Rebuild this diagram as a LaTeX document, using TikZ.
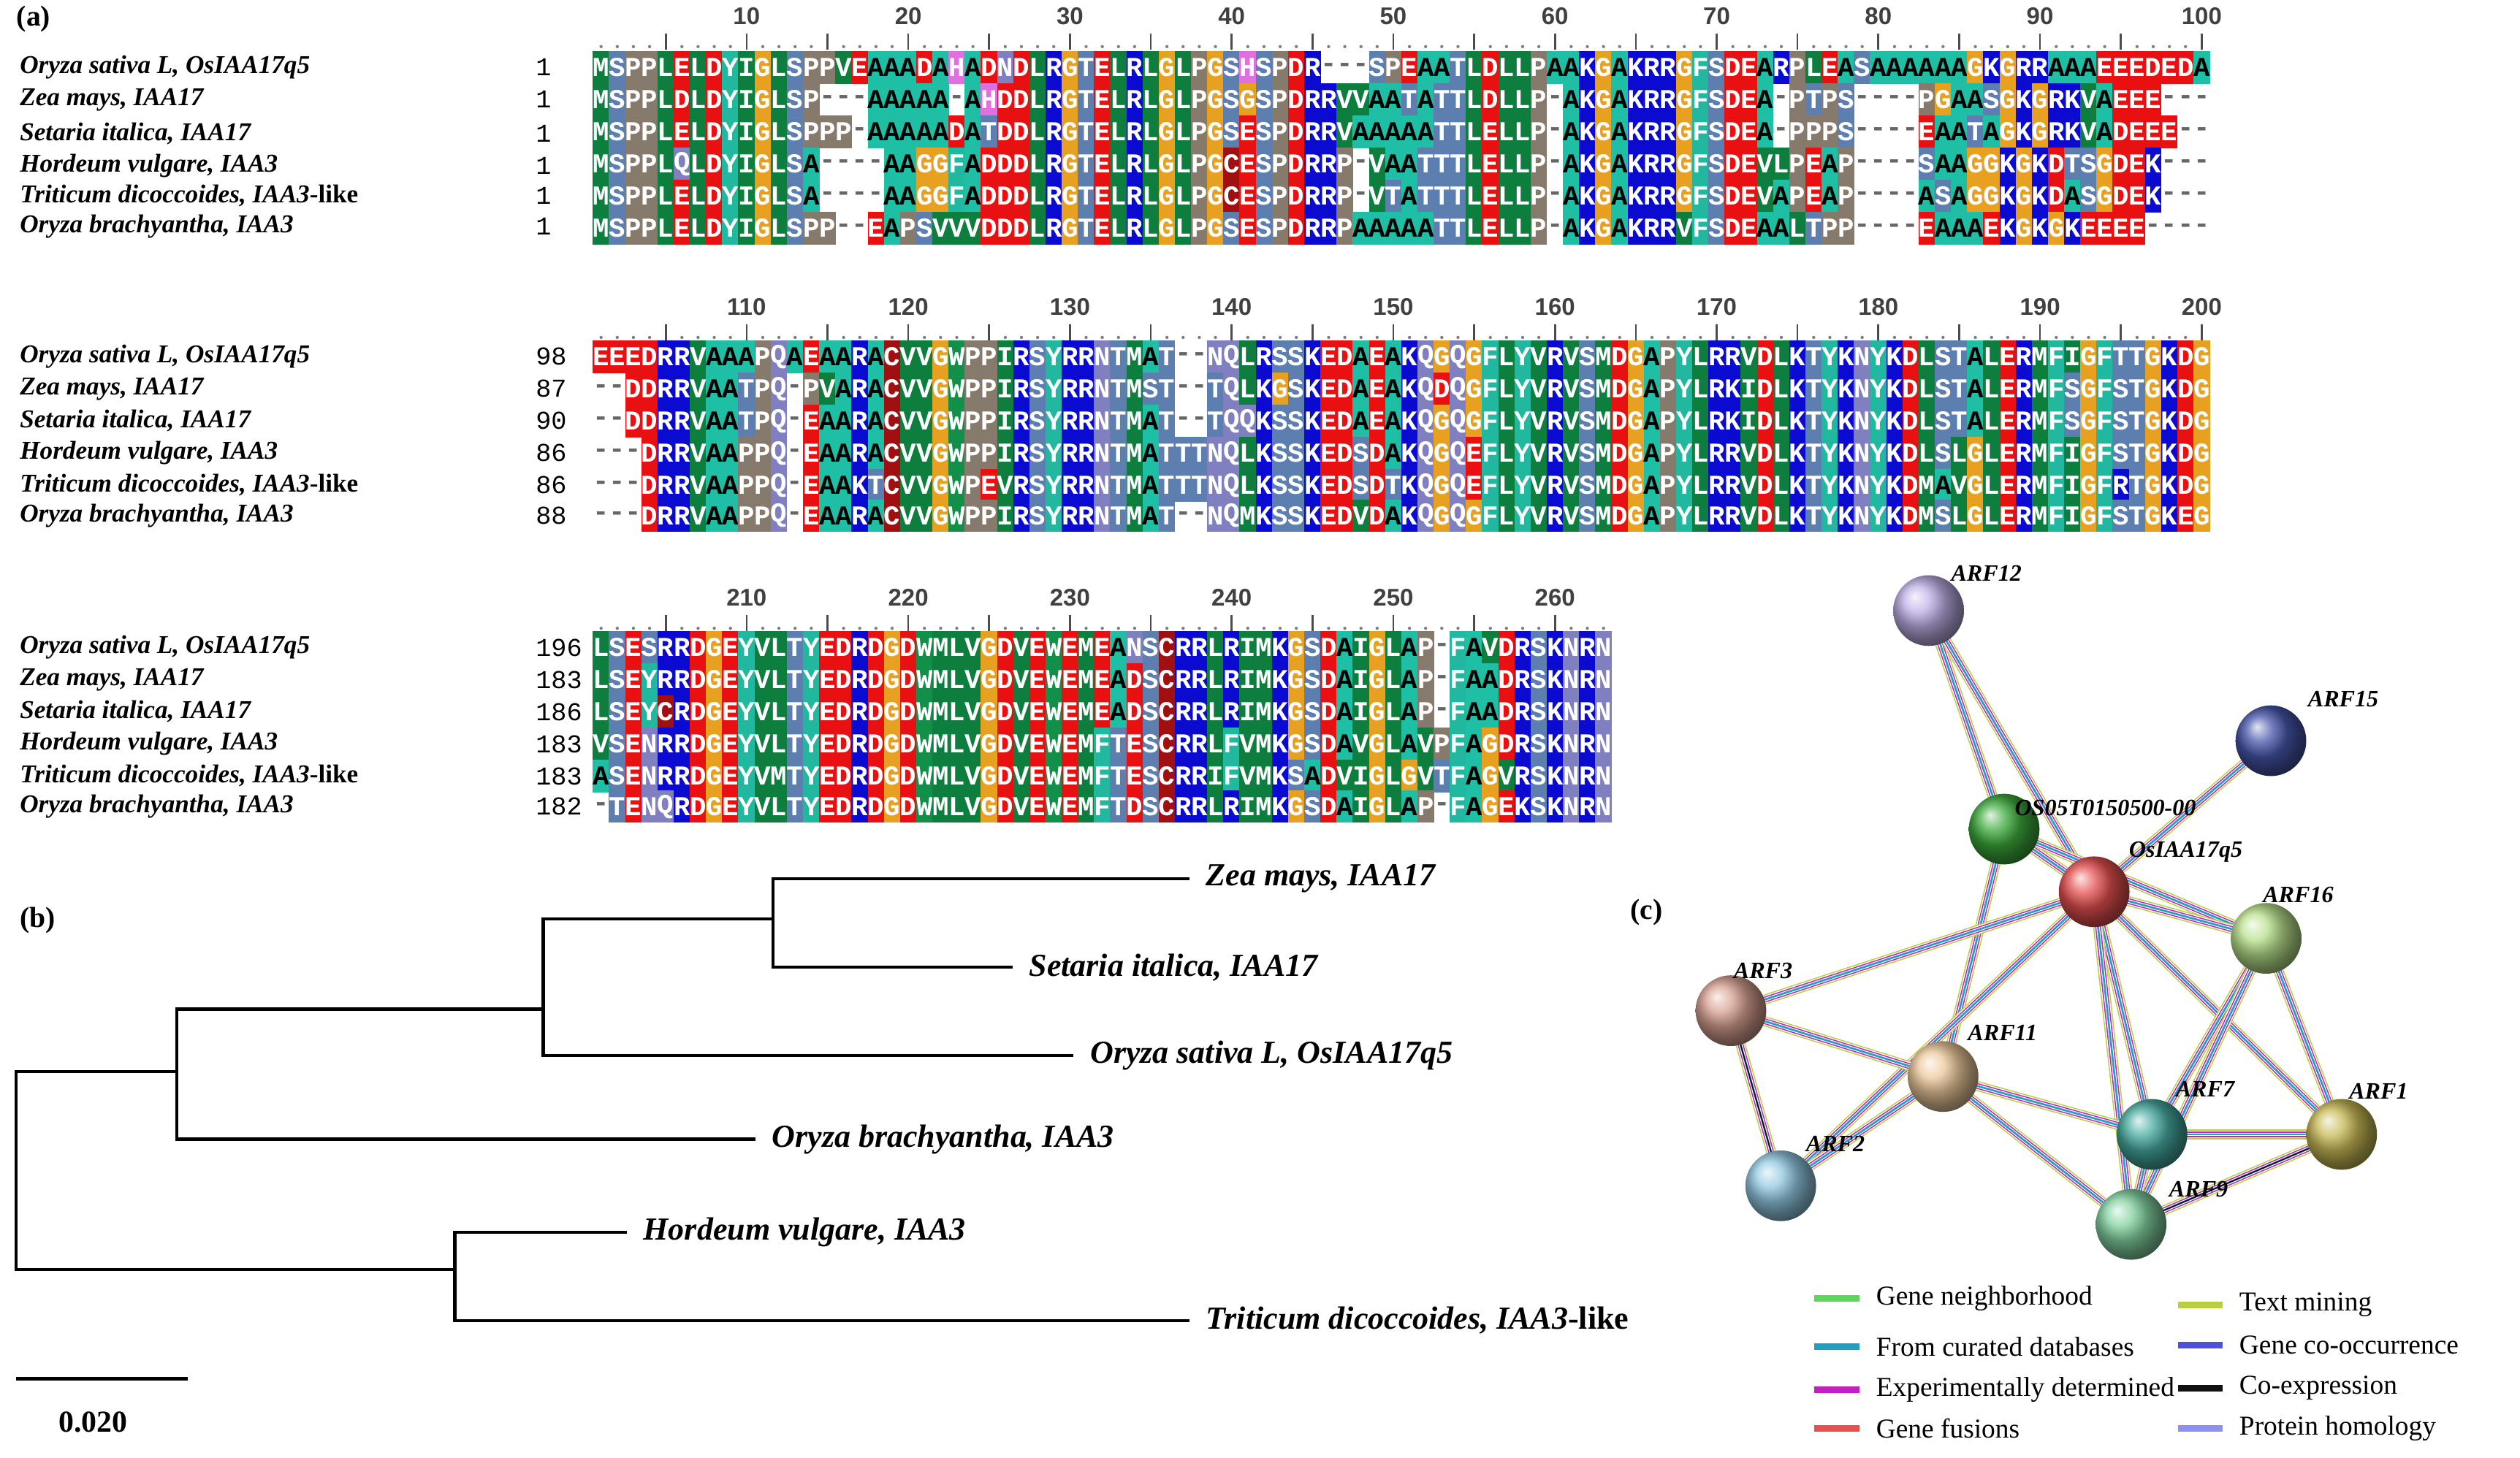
\documentclass[tikz,border=0pt]{standalone}
\usepackage{fontspec}
\setmainfont{Liberation Serif}
\newfontfamily\seqfont{Liberation Mono}
\newfontfamily\rulfont{Liberation Sans}
\usetikzlibrary{positioning}

% residue colours
\definecolor{resA}{HTML}{1FBFA5}\definecolor{resR}{HTML}{0A0AD0}\definecolor{resK}{HTML}{0A0AD0}
\definecolor{resD}{HTML}{E81010}\definecolor{resE}{HTML}{E81010}\definecolor{resG}{HTML}{E8A020}
\definecolor{resP}{HTML}{867A6C}\definecolor{resS}{HTML}{5C7FB0}\definecolor{resT}{HTML}{5C7FB0}
\definecolor{resM}{HTML}{0E7E3E}\definecolor{resL}{HTML}{0E7E3E}\definecolor{resI}{HTML}{0E7E3E}
\definecolor{resV}{HTML}{0E7E3E}\definecolor{resW}{HTML}{12904A}\definecolor{resY}{HTML}{22B8A0}
\definecolor{resF}{HTML}{22B8A0}\definecolor{resC}{HTML}{A01010}\definecolor{resN}{HTML}{8080C0}
\definecolor{resQ}{HTML}{8080C0}\definecolor{resH}{HTML}{E070E0}
% interaction colours
\definecolor{cNeigh}{HTML}{5CD65C}\definecolor{cDb}{HTML}{20A0C0}\definecolor{cExp}{HTML}{C020C0}
\definecolor{cFus}{HTML}{E85050}\definecolor{cText}{HTML}{B8D040}\definecolor{cCooc}{HTML}{5050E0}
\definecolor{cCoex}{HTML}{111111}\definecolor{cHom}{HTML}{9090F0}
% protein colours
\definecolor{bArfXII}{RGB}{190,175,230}\definecolor{bArfXV}{RGB}{70,85,170}
\definecolor{bOs}{RGB}{60,170,60}\definecolor{bIaa}{RGB}{230,80,80}
\definecolor{bArfXVI}{RGB}{185,225,140}\definecolor{bArfIII}{RGB}{215,160,145}
\definecolor{bArfXI}{RGB}{235,200,155}\definecolor{bArfVII}{RGB}{70,170,160}
\definecolor{bArfI}{RGB}{200,185,85}\definecolor{bArfII}{RGB}{145,200,225}
\definecolor{bArfIX}{RGB}{130,210,160}

\tikzset{
  res/.style={fill=res#1, text=white, inner sep=0pt, outer sep=0pt,
    minimum width=5.15pt, minimum height=10.1pt, font=\seqfont\bfseries\fontsize{8.5}{8.5}\selectfont},
  resA/.style={res=A, text=black},
  gapchar/.style={text=black!60, inner sep=0pt, font=\seqfont\bfseries\fontsize{8.5}{8.5}\selectfont},
  spec/.style={anchor=west, inner sep=0pt, font=\bfseries\itshape\fontsize{8}{9}\selectfont},
  startnum/.style={anchor=west, inner sep=0pt, font=\seqfont\fontsize{8}{8}\selectfont},
  rulnum/.style={inner sep=0pt, text=black!75, font=\rulfont\bfseries\fontsize{7.5}{8}\selectfont},
  panel/.style={anchor=west, inner sep=0pt, font=\bfseries\fontsize{9}{10}\selectfont},
  leaf/.style={anchor=west, inner sep=5pt, font=\bfseries\itshape\fontsize{10}{11}\selectfont},
  ball/.style={circle, shading=ball, ball color=#1, minimum size=22pt, inner sep=0pt},
  netlab/.style={inner sep=0pt, font=\bfseries\itshape\fontsize{7.3}{8}\selectfont},
  ppi/.style={draw=cText, line width=3.1pt,
    postaction={draw=white, line width=2.4pt},
    postaction={draw=cExp, line width=1.8pt},
    postaction={draw=white, line width=1.1pt},
    postaction={draw=cDb, line width=0.6pt}},
  legtext/.style={anchor=west, inner sep=0pt, font=\fontsize{8.5}{10}\selectfont},
  swatch/.style={line width=2pt, draw=#1}
}

% one alignment row: y, string
\newcount\seqi
\newcommand\seqrow[2]{\def\seqy{#1}\global\seqi=0 \seqnext#2\relax}
\def\seqnext#1{\ifx#1\relax\else\seqcell{#1}\expandafter\seqnext\fi}
\def\seqcell#1{\pgfmathsetmacro\cx{374+\the\seqi*10.06}%
  \ifx#1-\node[gapchar] at (\cx,\seqy) {-};%
  \else\ifx#1A\node[resA] at (\cx,\seqy) {A};\else\node[res=#1] at (\cx,\seqy) {#1};\fi\fi
  \global\advance\seqi by 1\relax}
% ruler: y, first column, number of columns
\newcommand\ruler[3]{%
  \foreach \i in {1,...,#3}{%
    \pgfmathtruncatemacro\c{#2+\i-1}\pgfmathsetmacro\cx{374+(\i-1)*10.06}%
    \pgfmathtruncatemacro\m{mod(\c,5)}\pgfmathtruncatemacro\mm{mod(\c,10)}%
    \ifnum\m=0 \draw[black!70, line width=0.6pt] (\cx,#1-5) -- (\cx,#1+5);%
    \else \fill[black!50] (\cx,#1+3) circle (0.5pt);\fi
    \ifnum\mm=0 \node[rulnum] at (\cx,#1-16) {\c};\fi}}

\begin{document}
\begin{tikzpicture}[x=0.5pt,y=-0.5pt]
\useasboundingbox (0,0) rectangle (1568,907);

%%% (a) alignment
\node[panel] (pa) at (10,12) {(a)};

% block 1
\ruler{26}{1}{100}
\foreach \y/\n/\s in {42/1/{Oryza sativa L, OsIAA17q5},62/1/{Zea mays, IAA17},83/1/{Setaria italica, IAA17},103/1/{Hordeum vulgare, IAA3},122/1/{\textit{Triticum dicoccoides, IAA3}\textup{-like}},141/1/{Oryza brachyantha, IAA3}}
  {\node[spec] at (12,\y) {\s}; \node[startnum] at (333,\y) {\n};}
\seqrow{42}{MSPPLELDYIGLSPPVEAAADAHADNDLRGTELRLGLPGSHSPDR---SPEAATLDLLPAAKGAKRRGFSDEARPLEASAAAAAAGKGRRAAAEEEDEDA}
\seqrow{62}{MSPPLDLDYIGLSP---AAAAA-AHDDLRGTELRLGLPGSGSPDRRVVAATATTLDLLP-AKGAKRRGFSDEA-PTPS----PGAASGKGRKVAEEE---}
\seqrow{82}{MSPPLELDYIGLSPPP-AAAAADATDDLRGTELRLGLPGSESPDRRVAAAAATTLELLP-AKGAKRRGFSDEA-PPPS----EAATAGKGRKVADEEE--}
\seqrow{102}{MSPPLQLDYIGLSA----AAGGFADDDLRGTELRLGLPGCESPDRRP-VAATTTLELLP-AKGAKRRGFSDEVLPEAP----SAAGGKGKDTSGDEK---}
\seqrow{122}{MSPPLELDYIGLSA----AAGGFADDDLRGTELRLGLPGCESPDRRP-VTATTTLELLP-AKGAKRRGFSDEVAPEAP----ASAGGKGKDASGDEK---}
\seqrow{142}{MSPPLELDYIGLSPP--EAPSVVVDDDLRGTELRLGLPGSESPDRRPAAAAATTLELLP-AKGAKRRVFSDEAALTPP----EAAAEKGKGKEEEE----}

% block 2
\ruler{207}{101}{100}
\foreach \y/\n/\s in {222/98/{Oryza sativa L, OsIAA17q5},242/87/{Zea mays, IAA17},262/90/{Setaria italica, IAA17},282/86/{Hordeum vulgare, IAA3},302/86/{\textit{Triticum dicoccoides, IAA3}\textup{-like}},321/88/{Oryza brachyantha, IAA3}}
  {\node[spec] at (12,\y) {\s}; \node[startnum] at (333,\y) {\n};}
\seqrow{222}{EEEDRRVAAAPQAEAARACVVGWPPIRSYRRNTMAT--NQLRSSKEDAEAKQGQGFLYVRVSMDGAPYLRRVDLKTYKNYKDLSTALERMFIGFTTGKDG}
\seqrow{242}{--DDRRVAATPQ-PVARACVVGWPPIRSYRRNTMST--TQLKGSKEDAEAKQDQGFLYVRVSMDGAPYLRKIDLKTYKNYKDLSTALERMFSGFSTGKDG}
\seqrow{262}{--DDRRVAATPQ-EAARACVVGWPPIRSYRRNTMAT--TQQKSSKEDAEAKQGQGFLYVRVSMDGAPYLRKIDLKTYKNYKDLSTALERMFSGFSTGKDG}
\seqrow{282}{---DRRVAAPPQ-EAARACVVGWPPIRSYRRNTMATTTNQLKSSKEDSDAKQGQEFLYVRVSMDGAPYLRRVDLKTYKNYKDLSLGLERMFIGFSTGKDG}
\seqrow{302}{---DRRVAAPPQ-EAAKTCVVGWPEVRSYRRNTMATTTNQLKSSKEDSDTKQGQEFLYVRVSMDGAPYLRRVDLKTYKNYKDMAVGLERMFIGFRTGKDG}
\seqrow{321}{---DRRVAAPPQ-EAARACVVGWPPIRSYRRNTMAT--NQMKSSKEDVDAKQGQGFLYVRVSMDGAPYLRRVDLKTYKNYKDMSLGLERMFIGFSTGKEG}

% block 3
\ruler{388}{201}{63}
\foreach \y/\n/\s in {403/196/{Oryza sativa L, OsIAA17q5},423/183/{Zea mays, IAA17},443/186/{Setaria italica, IAA17},463/183/{Hordeum vulgare, IAA3},483/183/{\textit{Triticum dicoccoides, IAA3}\textup{-like}},502/182/{Oryza brachyantha, IAA3}}
  {\node[spec] at (12,\y) {\s}; \node[startnum] at (333,\y) {\n};}
\seqrow{403}{LSESRRDGEYVLTYEDRDGDWMLVGDVEWEMEANSCRRLRIMKGSDAIGLAP-FAVDRSKNRN}
\seqrow{423}{LSEYRRDGEYVLTYEDRDGDWMLVGDVEWEMEADSCRRLRIMKGSDAIGLAP-FAADRSKNRN}
\seqrow{443}{LSEYCRDGEYVLTYEDRDGDWMLVGDVEWEMEADSCRRLRIMKGSDAIGLAP-FAADRSKNRN}
\seqrow{463}{VSENRRDGEYVLTYEDRDGDWMLVGDVEWEMFTESCRRLFVMKGSDAVGLAVPFAGDRSKNRN}
\seqrow{483}{ASENRRDGEYVMTYEDRDGDWMLVGDVEWEMFTESCRRIFVMKSADVIGLGVTFAGVRSKNRN}
\seqrow{502}{-TENQRDGEYVLTYEDRDGDWMLVGDVEWEMFTDSCRRLRIMKGSDAIGLAP-FAGEKSKNRN}

%%% (b) tree
\node[panel] (pb) at (12,573) {(b)};
\coordinate (root) at (10,728);
\coordinate (n1) at (110,667);
\coordinate (n2) at (338,628);
\coordinate (n3) at (481,572);
\coordinate (n4) at (283,790);
\node[leaf] (zea) at (740,547) {Zea mays, IAA17};
\node[leaf] (set) at (630,602) {Setaria italica, IAA17};
\node[leaf] (sat) at (668,657) {Oryza sativa L, OsIAA17q5};
\node[leaf] (bra) at (470,709) {Oryza brachyantha, IAA3};
\node[leaf] (hor) at (390,767) {Hordeum vulgare, IAA3};
\node[leaf] (tri) at (740,822) {\textit{Triticum dicoccoides, IAA3}\textup{-like}};
\begin{scope}[line width=1pt]
\draw (root) |- (n1); \draw (root) |- (n4);
\draw (n1) |- (n2); \draw (n1) |- (bra.west);
\draw (n2) |- (n3); \draw (n2) |- (sat.west);
\draw (n3) |- (zea.west); \draw (n3) |- (set.west);
\draw (n4) |- (hor.west); \draw (n4) |- (tri.west);
\end{scope}
% scale bar
\coordinate (sb1) at (10,858);
\coordinate (sb2) at (117,858);
\draw[line width=1pt] (sb1) -- (sb2);
\node[inner sep=0pt, font=\bfseries\fontsize{9.5}{10}\selectfont] (sbl) at (58,885) {0.020};

%%% (c) network
\node[panel] (pc) at (1014,568) {(c)};
\coordinate (g12) at (1200,380);
\coordinate (g15) at (1413,461);
\coordinate (gos) at (1247,516);
\coordinate (giaa) at (1303,555);
\coordinate (g16) at (1410,584);
\coordinate (g3) at (1077,629);
\coordinate (g11) at (1209,670);
\coordinate (g7) at (1339,706);
\coordinate (g1) at (1457,706);
\coordinate (g2) at (1108,738);
\coordinate (g9) at (1326,762);
% edges
\foreach \a/\b in {g12/gos,g12/giaa,g15/giaa,gos/giaa,gos/g16,gos/g11,giaa/g16,giaa/g3,giaa/g2,giaa/g7,giaa/g9,giaa/g1,
  g3/g11,g3/g2,g11/g2,g11/g7,g11/g9,g16/g7,g16/g1,g16/g9,g7/g1,g7/g9,g9/g1}
  \draw[ppi] (\a) -- (\b);
\draw[cCoex, line width=0.4pt] (g3) -- (g2);
\draw[cCoex, line width=0.4pt] (g9) -- (g1);
% proteins
\node[ball=bArfXII] (arf12) at (g12) {};
\node[ball=bArfXV] (arf15) at (g15) {};
\node[ball=bOs] (os05) at (gos) {};
\node[ball=bIaa] (osiaa) at (giaa) {};
\node[ball=bArfXVI] (arf16) at (g16) {};
\node[ball=bArfIII] (arf3) at (g3) {};
\node[ball=bArfXI] (arf11) at (g11) {};
\node[ball=bArfVII] (arf7) at (g7) {};
\node[ball=bArfI] (arf1) at (g1) {};
\node[ball=bArfII] (arf2) at (g2) {};
\node[ball=bArfIX] (arf9) at (g9) {};
% labels
\node[netlab] (l12) at (1236,357) {ARF12};
\node[netlab] (l15) at (1458,435) {ARF15};
\node[netlab] (los) at (1310,503) {OS05T0150500-00};
\node[netlab] (liaa) at (1360,530) {OsIAA17q5};
\node[netlab] (l16) at (1430,557) {ARF16};
\node[netlab] (l3) at (1097,604) {ARF3};
\node[netlab] (l11) at (1246,643) {ARF11};
\node[netlab] (l7) at (1372,678) {ARF7};
\node[netlab] (l1) at (1480,679) {ARF1};
\node[netlab] (l2) at (1142,712) {ARF2};
\node[netlab] (l9) at (1368,740) {ARF9};

% legend
\node[legtext] (leg1) at (1167,808) {Gene neighborhood};
\node[legtext] (leg2) at (1167,838) {From curated databases};
\node[legtext] (leg3) at (1167,865) {Experimentally determined};
\node[legtext] (leg4) at (1167,889) {Gene fusions};
\node[legtext] (leg5) at (1393,812) {Text mining};
\node[legtext] (leg6) at (1393,837) {Gene co-occurrence};
\node[legtext] (leg7) at (1393,864) {Co-expression};
\node[legtext] (leg8) at (1393,889) {Protein homology};
\foreach \l/\c in {leg1/cNeigh,leg2/cDb,leg3/cExp,leg4/cFus,leg5/cText,leg6/cCooc,leg7/cCoex,leg8/cHom}
  \draw[swatch=\c] (\l.west) ++(-38,0) -- ++(28,0);
\end{tikzpicture}
\end{document}
